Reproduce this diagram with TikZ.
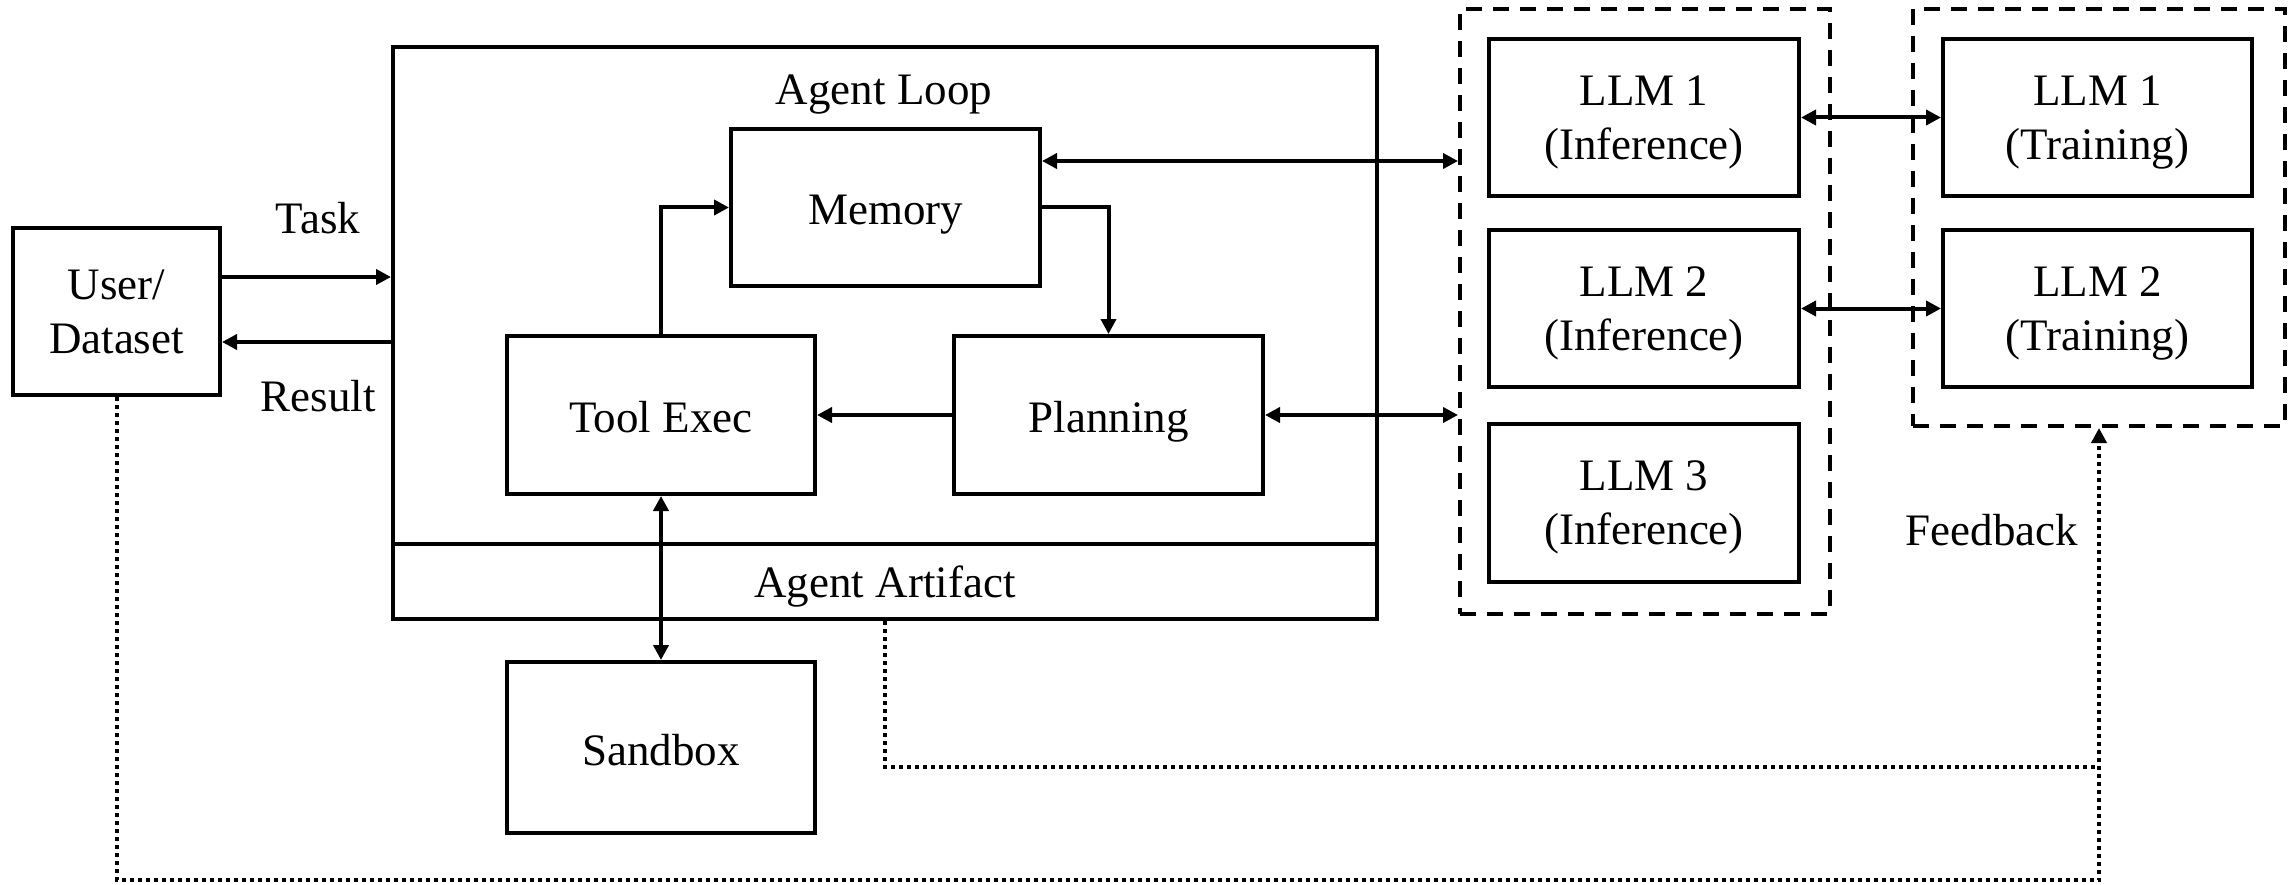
\documentclass[tikz,border=0pt]{standalone}
\usepackage{fontspec}
\setmainfont{Liberation Serif}
\usetikzlibrary{arrows.meta,calc}
\begin{document}
\begin{tikzpicture}[x=1pt,y=-1pt,
  font=\fontsize{45}{54}\selectfont,
  box/.style={draw, line width=4pt, rectangle, inner sep=0pt, align=center},
  twobox/.style={box, text depth=-7pt},
  onebox/.style={box, text height=35pt, text depth=0pt},
  grp/.style={draw, line width=4pt, dash pattern=on 16pt off 11pt, rectangle, inner sep=0pt},
  lbl/.style={text depth=0pt, inner sep=0pt},
  tip/.tip={Triangle[length=15pt,width=15pt]},
  arr/.style={line width=4pt, -tip},
  barr/.style={line width=4pt, tip-tip},
  fb/.style={line width=4pt, dash pattern=on 4pt off 4pt},
]
\useasboundingbox (0,0) rectangle (2290,885);

% user side
\node[twobox, minimum width=207pt, minimum height=167pt] (user) at (116.5,311.5) {User/\\Dataset};

% agent loop container
\node[box, minimum width=984pt, minimum height=572pt] (agent) at (885,333) {};
\coordinate (div) at (0,544);
\draw[line width=4pt] (agent.west |- div) -- (agent.east |- div);
\node[lbl] (loop) at (884,90) {Agent Loop};
\node[lbl] (artifact) at (885,582) {Agent Artifact};

\node[onebox, minimum width=309pt, minimum height=157pt] (memory) at (885.5,207.5) {Memory};
\node[onebox, minimum width=308pt, minimum height=158pt] (tool) at (661,415) {Tool Exec};
\node[onebox, minimum width=309pt, minimum height=158pt] (plan) at (1108.5,415) {Planning};
\node[onebox, minimum width=308pt, minimum height=171pt] (sandbox) at (661,747.5) {Sandbox};

% inference group
\node[grp, minimum width=370pt, minimum height=605pt] (dash1) at (1645,311.5) {};
\node[twobox, minimum width=310pt, minimum height=157pt] (llm1i) at (1644,117.5) {LLM 1\\(Inference)};
\node[twobox, minimum width=310pt, minimum height=157pt] (llm2i) at (1644,308.5) {LLM 2\\(Inference)};
\node[twobox, minimum width=310pt, minimum height=158pt] (llm3i) at (1644,503) {LLM 3\\(Inference)};

% training group
\node[grp, minimum width=372pt, minimum height=417pt] (dash2) at (2099,217.5) {};
\node[twobox, minimum width=309pt, minimum height=157pt] (llm1t) at (2097.5,117.5) {LLM 1\\(Training)};
\node[twobox, minimum width=309pt, minimum height=157pt] (llm2t) at (2097.5,308.5) {LLM 2\\(Training)};

% task / result
\coordinate (taskY) at (0,277);
\coordinate (resY) at (0,342);
\draw[arr] (user.east |- taskY) -- (agent.west |- taskY);
\draw[arr] (agent.west |- resY) -- (user.east |- resY);
\node[lbl] (task) at (318,218) {Task};
\node[lbl] (result) at (318,396) {Result};

% inner loop
\draw[arr] (tool.north) |- (memory.west);
\draw[arr] (memory.east) -| (plan.north);
\draw[arr] (plan.west) -- (tool.east);
\draw[barr] (tool.south) -- (sandbox.north);

% links to the models
\coordinate (mr) at ([yshift=46.5pt]memory.east);
\draw[barr] (mr) -- (mr -| dash1.west);
\draw[barr] (plan.east) -- (plan.east -| dash1.west);
\draw[barr] (llm1i.east) -- (llm1t.west);
\draw[barr] (llm2i.east) -- (llm2t.west);

% feedback paths
\coordinate (fbLow) at (0,880);
\coordinate (fbHigh) at (0,767);
\draw[fb, -tip] (user.south) -- (user.south |- fbLow) -| (dash2.south);
\draw[fb] (agent.south) |- (dash2.south |- fbHigh);
\node[lbl] (feedback) at (1992,530) {Feedback};
\end{tikzpicture}
\end{document}
